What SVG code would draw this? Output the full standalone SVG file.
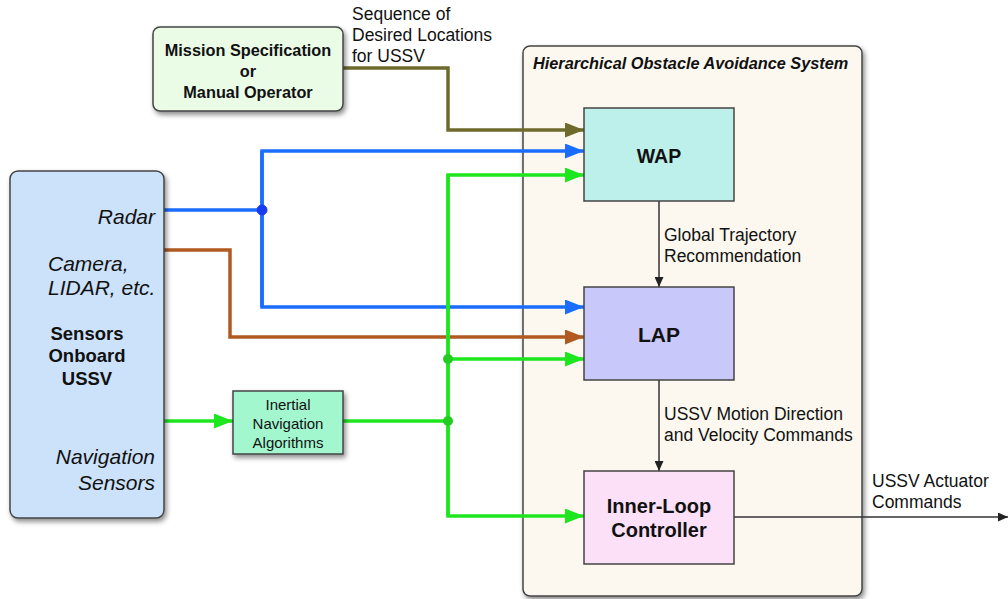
<svg xmlns="http://www.w3.org/2000/svg" width="1008" height="599" viewBox="0 0 1008 599">
<style>
.t{font-family:"Liberation Sans",Arial,sans-serif;fill:#111}
.b{font-weight:bold}
.i{font-style:italic}
.box{stroke:#444;stroke-width:1.5}
.ln{fill:none;stroke-width:3.5;stroke-linejoin:miter}
.blk{fill:none;stroke:#333;stroke-width:1.5}
</style>
<defs>
<filter id="sh" x="-10%" y="-10%" width="130%" height="130%">
<feDropShadow dx="2" dy="3" stdDeviation="2.5" flood-color="#000" flood-opacity="0.45"/>
</filter>
<marker id="aO" markerUnits="userSpaceOnUse" markerWidth="19" markerHeight="15" refX="19" refY="7.5" orient="auto"><path d="M0,0 L19,7.5 L0,15 z" fill="#6e6a2c"/></marker>
<marker id="aB" markerUnits="userSpaceOnUse" markerWidth="19" markerHeight="15" refX="19" refY="7.5" orient="auto"><path d="M0,0 L19,7.5 L0,15 z" fill="#1a6dff"/></marker>
<marker id="aG" markerUnits="userSpaceOnUse" markerWidth="19" markerHeight="15" refX="19" refY="7.5" orient="auto"><path d="M0,0 L19,7.5 L0,15 z" fill="#1ee61e"/></marker>
<marker id="aR" markerUnits="userSpaceOnUse" markerWidth="19" markerHeight="15" refX="19" refY="7.5" orient="auto"><path d="M0,0 L19,7.5 L0,15 z" fill="#b05a22"/></marker>
<marker id="aK" markerUnits="userSpaceOnUse" markerWidth="10" markerHeight="9" refX="10" refY="4.5" orient="auto"><path d="M0,0 L10,4.5 L0,9 z" fill="#222"/></marker>
</defs>
<rect width="1008" height="599" fill="#fff"/>

<g id="container">
<rect x="523" y="46" width="339" height="550" rx="7" fill="#fcf8ef" class="box" filter="url(#sh)"/>
<text class="t b i" x="533" y="69" font-size="16.3">Hierarchical Obstacle Avoidance System</text>
</g>

<g id="connectors">
<path class="ln" stroke="#6e6a2c" d="M343,68 H448 V130 H584" marker-end="url(#aO)"/>
<path class="ln" stroke="#1a6dff" d="M164,210 H262"/>
<path class="ln" stroke="#1a6dff" d="M262,307 V151 H584" marker-end="url(#aB)"/>
<path class="ln" stroke="#1a6dff" d="M262,151 V307 H584" marker-end="url(#aB)"/>
<path class="ln" stroke="#b05a22" d="M164,250 H230 V337 H584" marker-end="url(#aR)"/>
<path class="ln" stroke="#1ee61e" d="M164,421 H233" marker-end="url(#aG)"/>
<path class="ln" stroke="#1ee61e" d="M343,421 H448"/>
<path class="ln" stroke="#1ee61e" d="M448,516 V175 H584" marker-end="url(#aG)"/>
<path class="ln" stroke="#1ee61e" d="M448,175 V516 H584" marker-end="url(#aG)"/>
<path class="ln" stroke="#1ee61e" d="M448,359 H584" marker-end="url(#aG)"/>
<circle cx="262" cy="210" r="5" fill="#1a3cf0" stroke="#1a3cf0"/>
<circle cx="448" cy="359" r="5" fill="#22cc22"/>
<circle cx="448" cy="421" r="5" fill="#22cc22"/>
<path class="blk" d="M659,201 V287" marker-end="url(#aK)"/>
<path class="blk" d="M659,380 V471" marker-end="url(#aK)"/>
<path class="blk" d="M734,517 H1008" marker-end="url(#aK)"/>
<text class="t" font-size="17.5" x="352" y="20">Sequence of</text>
<text class="t" font-size="17.5" x="352" y="41">Desired Locations</text>
<text class="t" font-size="17.5" x="352" y="62">for USSV</text>
<text class="t" font-size="17.5" x="664" y="241">Global Trajectory</text>
<text class="t" font-size="17.5" x="664" y="262">Recommendation</text>
<text class="t" font-size="17.5" x="664" y="420">USSV Motion Direction</text>
<text class="t" font-size="17.5" x="664" y="441">and Velocity Commands</text>
<text class="t" font-size="17.5" x="872" y="487">USSV Actuator</text>
<text class="t" font-size="17.5" x="872" y="508">Commands</text>
</g>

<g id="mission">
<rect x="153" y="27" width="190" height="84" rx="7" fill="#eafbe6" class="box" filter="url(#sh)"/>
<text class="t b" font-size="16.3" text-anchor="middle" x="248" y="56">Mission Specification</text>
<text class="t b" font-size="16.3" text-anchor="middle" x="248" y="77">or</text>
<text class="t b" font-size="16.3" text-anchor="middle" x="248" y="98">Manual Operator</text>
</g>

<g id="sensors">
<rect x="10" y="171" width="154" height="347" rx="8" fill="#cce2fa" class="box" filter="url(#sh)"/>
<text class="t i" font-size="21" text-anchor="end" x="155" y="224">Radar</text>
<text class="t i" font-size="21" x="48" y="271">Camera,</text>
<text class="t i" font-size="21" x="48" y="295">LIDAR, etc.</text>
<text class="t b" font-size="18.5" text-anchor="middle" x="87" y="340">Sensors</text>
<text class="t b" font-size="18.5" text-anchor="middle" x="87" y="362">Onboard</text>
<text class="t b" font-size="18.5" text-anchor="middle" x="87" y="385">USSV</text>
<text class="t i" font-size="21" text-anchor="end" x="155" y="464">Navigation</text>
<text class="t i" font-size="21" text-anchor="end" x="155" y="490">Sensors</text>
</g>

<g id="ina">
<rect x="233" y="391" width="110" height="63" fill="#a3f7cf" class="box" filter="url(#sh)"/>
<text class="t" font-size="15" text-anchor="middle" x="288" y="410">Inertial</text>
<text class="t" font-size="15" text-anchor="middle" x="288" y="429">Navigation</text>
<text class="t" font-size="15" text-anchor="middle" x="288" y="448">Algorithms</text>
</g>

<g id="wap">
<rect x="584" y="108" width="150" height="93" fill="#bdf0ea" class="box"/>
<text class="t b" font-size="19.5" text-anchor="middle" x="659" y="163">WAP</text>
</g>

<g id="lap">
<rect x="584" y="287" width="150" height="93" fill="#c8c8fb" class="box"/>
<text class="t b" font-size="21" text-anchor="middle" x="659" y="342">LAP</text>
</g>

<g id="inner">
<rect x="584" y="471" width="150" height="93" fill="#fbe0f8" class="box"/>
<text class="t b" font-size="20" text-anchor="middle" x="659" y="513">Inner-Loop</text>
<text class="t b" font-size="20" text-anchor="middle" x="659" y="537">Controller</text>
</g>
</svg>
